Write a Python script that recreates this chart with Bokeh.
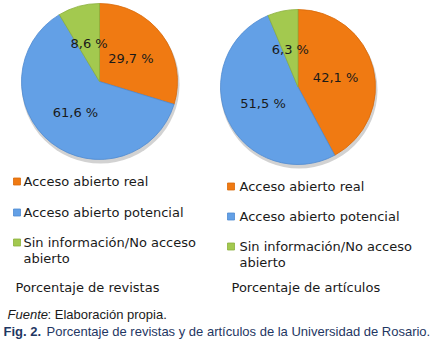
import math
from bokeh.plotting import figure
from bokeh.models import Range1d
from bokeh.core.properties import value
from bokeh.embed import file_html
from bokeh.resources import INLINE

# ---- data ----
categories = ["Acceso abierto real", "Acceso abierto potencial", "Sin información/No acceso abierto"]
revistas = [29.7, 61.6, 8.6]
articulos = [42.1, 51.5, 6.3]
revistas_labels = ["29,7 %", "61,6 %", "8,6 %"]
articulos_labels = ["42,1 %", "51,5 %", "6,3 %"]
pie_titles = ["Porcentaje de revistas", "Porcentaje de artículos"]
fuente = "Elaboración propia."
caption_bold = "Fig. 2."
caption_text = "Porcentaje de revistas y de artículos de la Universidad de Rosario."

colors = ["#F07A12", "#63A0E6", "#A3C94F"]
edge_colors = ["#D86A0A", "#4F8AD0", "#8BB03C"]

W, H = 440, 358
p = figure(width=W, height=H, x_range=Range1d(0, W), y_range=Range1d(0, H),
           output_backend="svg", toolbar_location=None, min_border=0)
p.axis.visible = False
p.grid.visible = False
p.outline_line_color = None
p.background_fill_color = "white"
p.border_fill_color = "white"

def Y(py):
    return H - py

FONT = value("DejaVu Sans")
CFONT = value("Liberation Sans")

def draw_pie(cx, cy, r, vals, labels):
    total = sum(vals)
    # shadow
    p.circle(x=[cx + 1], y=[Y(cy + 3)], radius=r + 1, fill_color="#7f7f7f",
             fill_alpha=0.35, line_color=None)
    cum = 0.0
    lx, ly = [], []
    for v, c, ec in zip(vals, colors, edge_colors):
        f0 = cum / total
        cum += v
        f1 = cum / total
        start = math.pi / 2 - 2 * math.pi * f1
        end = math.pi / 2 - 2 * math.pi * f0
        p.wedge(x=[cx], y=[Y(cy)], radius=r, start_angle=start, end_angle=end,
                fill_color=c, line_color=ec, line_width=0.8)
        mid = (start + end) / 2
        lx.append(cx + 0.5 * r * math.cos(mid))
        ly.append(Y(cy) + 0.5 * r * math.sin(mid))
    p.text(x=lx, y=ly, text=labels, text_font=FONT, text_font_size="13px",
           text_align="center", text_baseline="middle", text_color="#1a1a1a")

draw_pie(99, 81, 78, revistas, revistas_labels)
draw_pie(297.5, 86.5, 77.5, articulos, articulos_labels)

def draw_legend(sx, tx, ys, title_y, title):
    p.rect(x=[sx] * 3, y=[Y(v) for v in ys], width=7, height=7,
           fill_color=colors, line_color=edge_colors, line_width=0.8)
    texts = ["Acceso abierto real", "Acceso abierto potencial", "Sin información/No acceso"]
    p.text(x=[tx] * 3, y=[Y(v) for v in ys], text=texts, text_font=FONT,
           text_font_size="13px", text_baseline="middle", text_color="#1a1a1a")
    p.text(x=[tx], y=[Y(ys[2] + 16)], text=["abierto"], text_font=FONT,
           text_font_size="13px", text_baseline="middle", text_color="#1a1a1a")
    p.text(x=[tx - 8], y=[Y(title_y)], text=[title], text_font=FONT,
           text_font_size="13px", text_baseline="middle", text_color="#1a1a1a")

draw_legend(16.5, 23, [181, 212, 242], 287, pie_titles[0])
draw_legend(230.5, 239, [186, 216, 246], 287, pie_titles[1])

# source line
p.text(x=[7], y=[Y(314)], text=["Fuente"], text_font=CFONT,
       text_font_size="13px", text_font_style="italic", text_baseline="middle",
       text_color="#1a1a1a")
p.text(x=[47], y=[Y(314)], text=[": " + fuente], text_font=CFONT,
       text_font_size="13px", text_baseline="middle", text_color="#1a1a1a")

# caption
p.text(x=[3], y=[Y(331)], text=[caption_bold], text_font=CFONT,
       text_font_size="13px", text_font_style="bold", text_baseline="middle",
       text_color="#1f3763")
p.text(x=[46], y=[Y(331)], text=[caption_text], text_font=CFONT,
       text_font_size="13px", text_baseline="middle", text_color="#1f3763")

open("out.html", "w").write(file_html(p, INLINE))
